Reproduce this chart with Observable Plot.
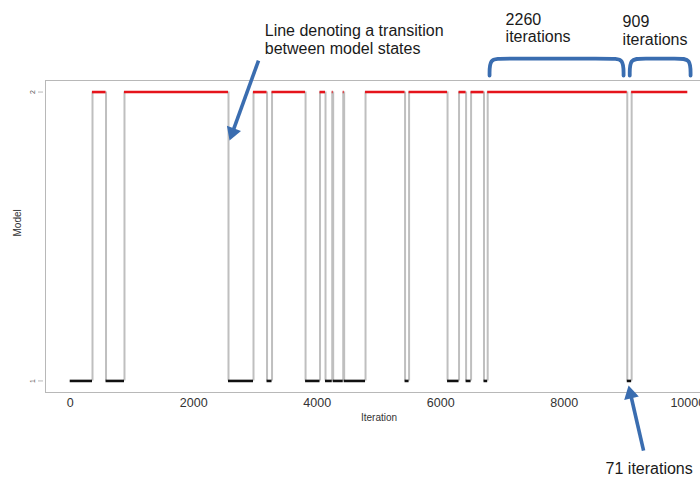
<!DOCTYPE html>
<html>
<head>
<meta charset="utf-8">
<script src="https://cdn.jsdelivr.net/npm/d3@7"></script>
<script src="https://cdn.jsdelivr.net/npm/@observablehq/plot@0.6"></script>
<style>
  html, body { margin: 0; padding: 0; background: white; }
  #wrap { width: 700px; height: 477px; overflow: hidden; }
</style>
</head>
<body>
<div id="wrap"></div>
<script>
// ---- data ----
const firstIteration = 0;
const lastIteration = 10000;
const firstModel = 1;
// iterations at which the sampler switches model (alternating 1 -> 2 -> 1 ...)
const transitions = [361, 580, 879, 2563, 2968, 3187, 3268, 3811, 4045, 4134,
  4243, 4258, 4421, 4436, 4782, 5422, 5487, 6110, 6296, 6410, 6491, 6700,
  6760, 9020, 9091];
const xTicks = [0, 2000, 4000, 6000, 8000, 10000];
const yTicks = [1, 2];

// annotations
const noteText = ["Line denoting a transition\nbetween model states", "2260\niterations", "909\niterations", "71 iterations"];
const noteX = [3150, 7050, 8944, 8669];
const noteY = [2.182, 2.222, 2.213, 0.697];
const arrowX1 = [3049, 9284];
const arrowY1 = [2.109, 0.759];
const arrowX2 = [2580, 9041];
const arrowY2 = [1.832, 0.984];
const braceX1 = [6790, 9060];
const braceX2 = [8960, 10045];
const braceBottom = 2.057;
const braceTop = 2.116;

// ---- layout ----
const W = 712, H = 477, mL = 45, mR = 0, mT = 80, mB = 85;
const xDomain = [-400, 10400];
const yDomain = [0.96, 2.04];
const kx = (W - mL - mR) / (xDomain[1] - xDomain[0]);
const ky = (H - mT - mB) / (yDomain[1] - yDomain[0]);

const red = "#e5141b", black = "#111111", grey = "#bfbfbf", frameCol = "#b8b8b8", blue = "#3a6db0";

// segments
const segStart = [firstIteration, ...transitions];
const segEnd = [...transitions, lastIteration];
const segModel = segStart.map((_, i) => (i % 2 === 0 ? firstModel : 3 - firstModel));
const segIdx = segStart.map((_, i) => i);

// brace paths
const cornerPx = 12;
const bracePts = [];
braceX1.forEach((x1, b) => {
  const x2 = braceX2[b];
  const a = cornerPx / kx;
  [[x1, braceBottom], [x1, braceTop], [x1 + a, braceTop], [x2 - a, braceTop], [x2, braceTop], [x2, braceBottom]]
    .forEach(([x, y]) => bracePts.push({b, x, y}));
});

// arrow heads
const headH = 13;
const headY = headH / 3;
const heads = arrowX1.map((x1, i) => {
  const dx = (arrowX2[i] - x1) * kx;
  const dy = -(arrowY2[i] - arrowY1[i]) * ky;
  const len = Math.hypot(dx, dy);
  const ux = dx / len, uy = dy / len;
  const off = 2 * headY;
  return {
    x: arrowX2[i] - off * ux / kx,
    y: arrowY2[i] + off * uy / ky,
    rot: Math.atan2(ux, -uy) * 180 / Math.PI,
    x1, y1: arrowY1[i]
  };
});
const headR = Math.sqrt(3 * Math.sqrt(3) * headY * headY / Math.PI);

const plot = Plot.plot({
  width: W, height: H,
  marginLeft: mL, marginRight: mR, marginTop: mT, marginBottom: mB,
  style: {fontFamily: "'Liberation Sans', Arial, sans-serif", background: "white", color: "#333", overflow: "visible", maxWidth: "none"},
  x: {domain: xDomain},
  y: {domain: yDomain},
  marks: [
    Plot.frame({stroke: frameCol}),
    Plot.axisX({ticks: xTicks, tickSize: 0, tickPadding: 6, tickFormat: "d", fontSize: 12.5, label: null, fill: "#333"}),
    Plot.axisY({ticks: yTicks, tickSize: 5, tickFormat: "d", tickRotate: -90, fontSize: 7, label: null, stroke: frameCol, fill: "#555", dx: -2, tickPadding: 4}),
    Plot.text(["Iteration"], {frameAnchor: "bottom", dy: 28, fontSize: 10, fill: "#333"}),
    Plot.text(["Model"], {frameAnchor: "left", dx: -28, rotate: -90, fontSize: 10, fill: "#333"}),
    Plot.ruleX(transitions, {x: d => d, y1: 1, y2: 2, stroke: grey, strokeWidth: 2}),
    Plot.ruleY(segIdx.filter(i => segModel[i] === 1), {x1: i => segStart[i], x2: i => segEnd[i], y: i => segModel[i], stroke: black, strokeWidth: 2.6}),
    Plot.ruleY(segIdx.filter(i => segModel[i] === 2), {x1: i => segStart[i], x2: i => segEnd[i], y: i => segModel[i], stroke: red, strokeWidth: 2.6}),
    Plot.line(bracePts, {x: "x", y: "y", z: "b", curve: "basis", stroke: blue, strokeWidth: 3.8, strokeLinecap: "round"}),
    Plot.link(heads, {x1: "x1", y1: "y1", x2: "x", y2: "y", stroke: blue, strokeWidth: 3.6}),
    Plot.dot(heads, {x: "x", y: "y", symbol: "triangle", r: headR, rotate: "rot", fill: blue, stroke: "none"}),
    Plot.text(noteText, {x: (d, i) => noteX[i], y: (d, i) => noteY[i], text: d => d, textAnchor: "start", lineAnchor: "middle", fontSize: 16, lineHeight: 1.1, fill: "#1a1a1a"})
  ]
});
document.getElementById("wrap").appendChild(plot);
</script>
</body>
</html>
